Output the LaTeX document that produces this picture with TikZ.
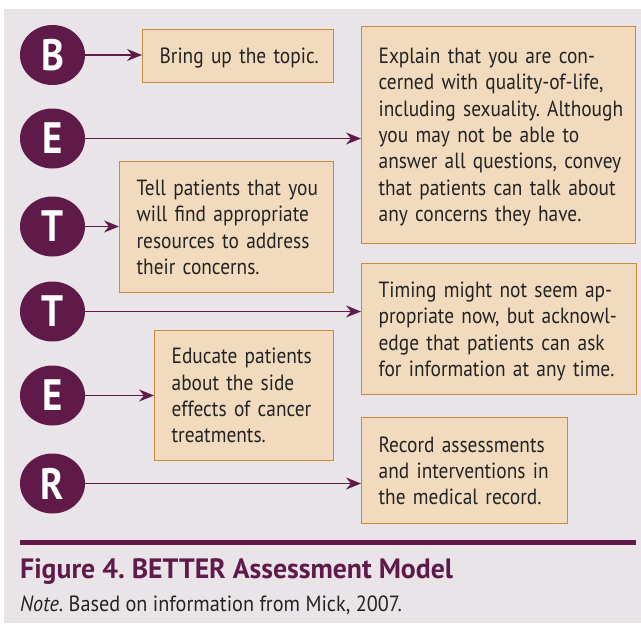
\documentclass[tikz,border=0pt]{standalone}
\usepackage{fontspec}
\setmainfont{PT Sans}[FakeStretch=0.88]
\newfontfamily\titlefont{PT Sans}[FakeStretch=0.99]
\newfontfamily\notefont{PT Sans}[FakeStretch=0.92]
\usetikzlibrary{arrows.meta,shapes.geometric}
\definecolor{plum}{HTML}{5F1A4A}
\definecolor{boxfill}{HTML}{F1DABD}
\definecolor{boxline}{HTML}{C98A3C}
\definecolor{bg}{HTML}{E9E4E7}
\definecolor{txt}{HTML}{232323}
\frenchspacing
\newcommand{\boxlines}[1]{\noindent\raisebox{-2.5pt}[\height][\depth]{\begin{tabular}{@{}l@{}}#1\end{tabular}}}
\begin{document}
\begin{tikzpicture}[x=1pt,y=-1pt,
  letter/.style={ellipse,fill=plum,minimum width=65pt,minimum height=60pt,inner sep=0pt,
    text=white,font=\fontsize{44}{44}\selectfont\bfseries},
  infobox/.style={rectangle,draw=boxline,fill=boxfill,line width=1.3pt,anchor=north west,
    inner xsep=17pt,inner ysep=0pt,align=left,text=txt,
    font=\fontsize{22}{26.3}\selectfont\frenchspacing},
  arr/.style={draw=plum,line width=1.4pt,-{Stealth[length=15pt,width=12pt,inset=5pt]}}
]
\useasboundingbox (0,0) rectangle (641,625);
\fill[bg] (4,9) rectangle (641,623);

\node[letter] (cB) at (52.5,55) {B};
\node[letter] (cE1) at (52.5,138.5) {E};
\node[letter] (cT1) at (52.5,226.5) {T};
\node[letter] (cT2) at (52.5,311.5) {T};
\node[letter] (cE2) at (52.5,395.5) {E};
\node[letter] (cR) at (52.5,483.5) {R};

\node[infobox,text width=157pt,minimum height=53pt] (b1) at (142,29) {\boxlines{Bring up the topic.}};
\node[infobox,text width=240pt,minimum height=217pt] (b2) at (361,25.5) {\boxlines{Explain that you are con-\\cerned with quality-of-life,\\including sexuality. Although\\you may not be able to\\answer all questions, convey\\that patients can talk about\\any concerns they have.}};
\node[infobox,text width=180pt,minimum height=131pt] (b3) at (119,161) {\boxlines{Tell patients that you\\will find appropriate\\resources to address\\their concerns.}};
\node[infobox,text width=241pt,minimum height=131pt] (b4) at (361,263) {\boxlines{Timing might not seem ap-\\propriate now, but acknowl-\\edge that patients can ask\\for information at any time.}};
\node[infobox,text width=145pt,minimum height=130pt] (b5) at (154,330) {\boxlines{Educate patients\\about the side\\effects of cancer\\treatments.}};
\node[infobox,text width=172pt,minimum height=106pt] (b6) at (361,417) {\boxlines{Record assessments\\and interventions in\\the medical record.}};

\draw[arr] (cB.east) -- (cB.east -| b1.west);
\draw[arr] (cE1.east) -- (cE1.east -| b2.west);
\draw[arr] (cT1.east) -- (cT1.east -| b3.west);
\draw[arr] (cT2.east) -- (cT2.east -| b4.west);
\draw[arr] (cE2.east) -- (cE2.east -| b5.west);
\draw[arr] (cR.east) -- (cR.east -| b6.west);

\coordinate (ruleL) at (20,542);
\coordinate (ruleR) at (636,542);
\draw[plum,line width=5pt] (ruleL) -- (ruleR);
\node[anchor=base west,inner sep=0pt,text=plum,font=\titlefont\fontsize{28}{30}\selectfont\bfseries] (title) at (20,578) {Figure 4. BETTER Assessment Model};
\node[anchor=base west,inner sep=0pt,text=txt,font=\notefont\fontsize{22}{24}\selectfont\frenchspacing] (note) at (20,611) {\textit{Note}. Based on information from Mick, 2007.};
\end{tikzpicture}
\end{document}
